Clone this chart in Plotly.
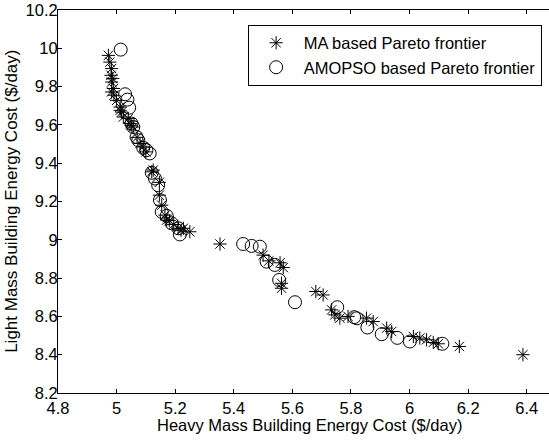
import plotly.graph_objects as go

# MA based Pareto frontier (asterisks)
ma_x = [4.972, 4.977, 4.983, 4.981, 4.987, 4.983, 4.989, 4.983, 4.991, 5.000,
        5.012, 5.017, 5.023, 5.012, 5.040, 5.046, 5.050, 5.057, 5.070, 5.080,
        5.091, 5.100, 5.125, 5.120, 5.146, 5.146, 5.154, 5.165, 5.171, 5.180,
        5.195, 5.210, 5.228, 5.250, 5.220, 5.353, 5.500, 5.520, 5.558, 5.569,
        5.563, 5.563, 5.680, 5.705, 5.734, 5.745, 5.762, 5.790, 5.853, 5.876,
        5.922, 5.939, 6.013, 6.035, 6.058, 6.081, 6.098, 6.170, 6.387]
ma_y = [9.963, 9.928, 9.894, 9.859, 9.842, 9.824, 9.790, 9.772, 9.755, 9.728,
        9.693, 9.667, 9.641, 9.676, 9.633, 9.607, 9.598, 9.589, 9.535, 9.503,
        9.485, 9.459, 9.364, 9.355, 9.300, 9.233, 9.181, 9.129, 9.103, 9.100,
        9.080, 9.060, 9.060, 9.042, 9.050, 8.978, 8.920, 8.890, 8.880, 8.855,
        8.773, 8.747, 8.730, 8.712, 8.634, 8.608, 8.591, 8.600, 8.591, 8.573,
        8.539, 8.521, 8.495, 8.487, 8.478, 8.464, 8.457, 8.443, 8.400]

# AMOPSO based Pareto frontier (circles)
am_x = [5.014, 5.029, 5.037, 5.043, 5.051, 5.057, 5.068, 5.074, 5.091, 5.102,
        5.113, 5.120, 5.131, 5.142, 5.148, 5.154, 5.171, 5.188, 5.211, 5.216,
        5.432, 5.461, 5.489, 5.512, 5.540, 5.555, 5.609, 5.753, 5.811, 5.820,
        5.856, 5.905, 5.958, 6.001, 6.112]
am_y = [9.993, 9.760, 9.732, 9.690, 9.607, 9.589, 9.537, 9.520, 9.480, 9.468,
        9.451, 9.350, 9.320, 9.285, 9.207, 9.146, 9.125, 9.086, 9.060, 9.028,
        8.978, 8.968, 8.964, 8.886, 8.869, 8.790, 8.674, 8.648, 8.596, 8.590,
        8.542, 8.507, 8.488, 8.469, 8.457]

x_ticks = [4.8, 5.0, 5.2, 5.4, 5.6, 5.8, 6.0, 6.2, 6.4]
x_tick_text = ["4.8", "5", "5.2", "5.4", "5.6", "5.8", "6", "6.2", "6.4"]
y_ticks = [8.2, 8.4, 8.6, 8.8, 9.0, 9.2, 9.4, 9.6, 9.8, 10.0, 10.2]
y_tick_text = ["8.2", "8.4", "8.6", "8.8", "9", "9.2", "9.4", "9.6", "9.8", "10", "10.2"]

FONT = "Liberation Sans, Arial, sans-serif"
FS = 16.5

fig = go.Figure()
fig.add_trace(go.Scatter(
    x=ma_x, y=ma_y, mode="markers", name="MA based Pareto frontier",
    marker=dict(symbol="asterisk-open", size=11, color="black",
                line=dict(color="black", width=1)),
))
fig.add_trace(go.Scatter(
    x=am_x, y=am_y, mode="markers", name="AMOPSO based Pareto frontier",
    marker=dict(symbol="circle-open", size=13, color="black",
                line=dict(color="black", width=1)),
))

fig.update_layout(
    width=549, height=440,
    margin=dict(l=58, r=0, t=10, b=47),
    paper_bgcolor="white", plot_bgcolor="white",
    font=dict(family=FONT, size=FS, color="black"),
    showlegend=True,
    legend=dict(
        x=0.985, y=0.962, xanchor="right", yanchor="top",
        bgcolor="white", bordercolor="black", borderwidth=1,
        font=dict(family=FONT, size=FS, color="black"),
        itemwidth=45, tracegroupgap=0,
    ),
    xaxis=dict(
        range=[4.8, 6.476], tickvals=x_ticks, ticktext=x_tick_text,
        ticks="inside", ticklen=4, tickcolor="black", tickwidth=1,
        showline=True, linecolor="black", linewidth=1, mirror=False,
        showgrid=False, zeroline=False,
    ),
    xaxis2=dict(
        range=[4.8, 6.476], tickvals=x_ticks, showticklabels=False,
        overlaying="x", side="top", anchor="y",
        ticks="inside", ticklen=4, tickcolor="black", tickwidth=1,
        showline=True, linecolor="black", linewidth=1,
        showgrid=False, zeroline=False,
    ),
    yaxis=dict(
        range=[8.2, 10.2], tickvals=y_ticks, ticktext=y_tick_text,
        ticks="inside", ticklen=4, tickcolor="black", tickwidth=1,
        ticklabelstandoff=-4,
        showline=True, linecolor="black", linewidth=1, mirror=False,
        showgrid=False, zeroline=False,
    ),
    annotations=[
        dict(text="Heavy Mass Building Energy Cost ($/day)",
             xref="paper", yref="paper", x=0.513, y=-0.056,
             xanchor="center", yanchor="top", showarrow=False,
             font=dict(family=FONT, size=FS, color="black")),
        dict(text="Light Mass Building Energy Cost ($/day)",
             xref="paper", yref="paper", x=-0.095, y=0.5,
             xanchor="center", yanchor="middle", textangle=-90, showarrow=False,
             font=dict(family=FONT, size=17, color="black")),
    ],
)
# invisible trace bound to the top axis so its ticks are drawn
fig.add_trace(go.Scatter(x=[4.8], y=[8.2], xaxis="x2", mode="markers",
                         marker=dict(opacity=0), showlegend=False, hoverinfo="skip"))

fig.write_html("out.html")
